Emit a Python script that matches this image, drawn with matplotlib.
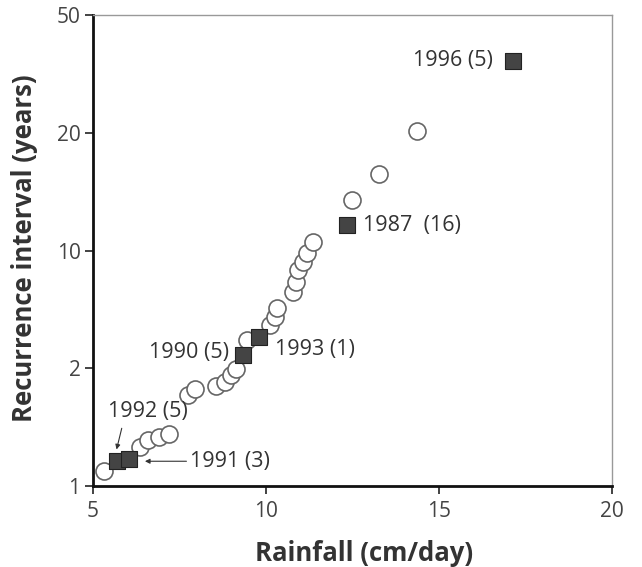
import numpy as np
import matplotlib
matplotlib.use("Agg")
import matplotlib.pyplot as plt

plt.rcParams['font.family'] = ['Open Sans', 'DejaVu Sans']

# annual maximum rainfall (cm/day) and recurrence interval (years)
circle_rain = [5.32, 6.36, 6.59, 6.91, 7.20, 7.75, 7.95, 8.55, 8.82, 8.99, 9.13, 9.45,
               10.12, 10.26, 10.32, 10.78, 10.87, 10.92, 11.07, 11.18, 11.36,
               12.48, 13.27, 14.37]
circle_ri = [1.13, 1.33, 1.39, 1.42, 1.44, 1.77, 1.82, 1.85, 1.88, 1.94, 1.99, 3.92,
             4.94, 5.48, 6.09, 7.18, 7.86, 8.67, 9.22, 9.83, 10.72,
             14.3, 16.5, 20.5]

# highlighted years
square_years = ["1992", "1991", "1990", "1993", "1987", "1996"]
square_rain = [5.68, 6.05, 9.33, 9.80, 12.33, 17.14]
square_ri = [1.21, 1.23, 2.90, 4.12, 12.17, 38.3]

y_ticks = [1, 2, 10, 20, 50]
x_ticks = [5, 10, 15, 20]

# probability-style axis: the tick values are equally spaced
tick_pos = np.arange(len(y_ticks), dtype=float)


def fwd(v):
    return np.interp(v, y_ticks, tick_pos)


def inv(p):
    return np.interp(p, tick_pos, y_ticks)


fig = plt.figure(figsize=(6.42, 5.67), dpi=100)
ax = fig.add_axes([0.1449, 0.1429, 0.8084, 0.8306])
ax.set_yscale('function', functions=(fwd, inv))

txt = '#333333'

ax.scatter(circle_rain, circle_ri, s=150, facecolor='white', edgecolor='#666666',
           linewidth=1.2, zorder=3)
ax.scatter(square_rain, square_ri, s=135, marker='s', facecolor='#444444',
           edgecolor='#222222', linewidth=0.8, zorder=4)

fs = 15.5
ax.text(16.55, 38.3, "1996 (5)", ha='right', va='center', fontsize=fs, color=txt)
ax.text(12.80, 12.1, "1987  (16)", ha='left', va='center', fontsize=fs, color=txt)
ax.text(10.26, 3.24, "1993 (1)", ha='left', va='center', fontsize=fs, color=txt)
ax.text(8.93, 3.1, "1990 (5)", ha='right', va='center', fontsize=fs, color=txt)
ax.text(6.59, 1.63, "1992 (5)", ha='center', va='center', fontsize=fs, color=txt)
ax.text(7.80, 1.21, "1991 (3)", ha='left', va='center', fontsize=fs, color=txt)

ax.annotate("", xy=(5.68, 1.31), xytext=(5.83, 1.49),
            arrowprops=dict(arrowstyle='-|>', color='#333333', lw=0.8,
                            mutation_scale=7, shrinkA=0, shrinkB=0))
ax.annotate("", xy=(6.50, 1.21), xytext=(7.70, 1.21),
            arrowprops=dict(arrowstyle='-|>', color='#333333', lw=0.8,
                            mutation_scale=7, shrinkA=0, shrinkB=0))

ax.set_xlim(5, 20)
ax.set_ylim(1, 50)
ax.set_xticks(x_ticks)
ax.set_yticks(y_ticks)
ax.set_yticklabels([str(t) for t in y_ticks])
ax.minorticks_off()
ax.tick_params(axis='both', labelsize=15, colors='#222222', labelcolor='#444444',
               length=6, width=1.2, direction='out')
ax.tick_params(axis='x', pad=5)
ax.tick_params(axis='y', pad=3)

for side in ['left', 'bottom']:
    ax.spines[side].set_linewidth(2)
    ax.spines[side].set_color('#111111')
for side in ['top', 'right']:
    ax.spines[side].set_linewidth(1)
    ax.spines[side].set_color('#999999')

ax.set_xlabel("Rainfall (cm/day)", fontsize=18.5, fontweight='bold', color=txt)
ax.set_ylabel("Recurrence interval (years)", fontsize=18.5, fontweight='bold', color=txt)
ax.xaxis.set_label_coords(0.522, -0.115)
ax.yaxis.set_label_coords(-0.106, 0.505)

fig.savefig("out.png", dpi=100)
